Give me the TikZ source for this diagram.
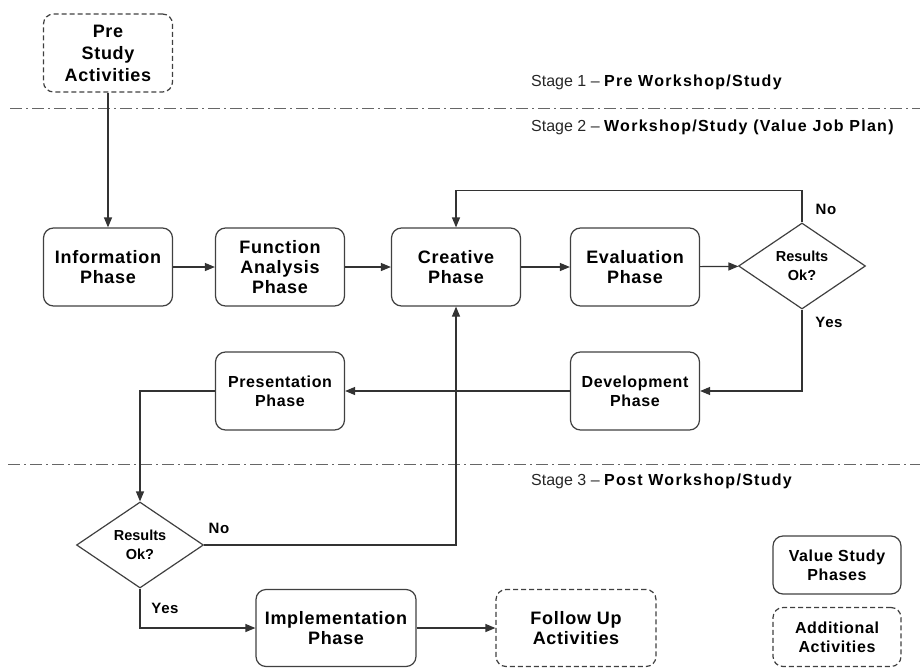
\documentclass[tikz,border=0pt]{standalone}
\usepackage{fontspec}
\setmainfont{Liberation Sans}
\newfontfamily\spaced[LetterSpace=4]{Liberation Sans}
\newfontfamily\wide[LetterSpace=8]{Liberation Sans}
\usetikzlibrary{shapes.geometric,arrows.meta}
\begin{document}
\begin{tikzpicture}[x=1pt,y=-1pt,
  phase/.style={draw=black!75, line width=1.2pt, rounded corners=10pt, minimum width=129pt, minimum height=78pt, align=center, font=\spaced\bfseries\fontsize{18}{20}\selectfont, inner sep=2pt},
  smalltext/.style={font=\spaced\bfseries\fontsize{16}{19}\selectfont},
  extra/.style={phase, dash pattern=on 5pt off 3pt},
  decision/.style={draw=black!75, line width=1.2pt, diamond, aspect=1.5, minimum width=127pt, minimum height=86pt, inner sep=0pt, align=center, font=\bfseries\fontsize{14.5}{19}\selectfont},
  conn/.style={draw=black!80, line width=1.2pt, -{Triangle[length=10pt,width=8pt]}},
  lab/.style={font=\spaced\bfseries\fontsize{15}{18}\selectfont},
  stage/.style={anchor=west, inner sep=0pt, text=black!85, font=\fontsize{16}{18}\selectfont},
  sep/.style={draw=black!60, line width=1pt, dash pattern=on 12pt off 4pt on 2pt off 4pt}]

\useasboundingbox (0,0) rectangle (920,669);

% separators
\coordinate (l1a) at (10,108);
\coordinate (l1b) at (920,108);
\coordinate (l2a) at (8,464);
\coordinate (l2b) at (920,464);
\draw[sep] (l1a) -- (l1b);
\draw[sep] (l2a) -- (l2b);

% stage labels
\node[stage] (s1) at (531,82) {Stage 1 – {\wide\bfseries\color{black} Pre Workshop/Study}};
\node[stage] (s2) at (531,127) {Stage 2 – {\wide\bfseries\color{black} Workshop/Study (Value Job Plan)}};
\node[stage] (s3) at (531,481) {Stage 3 – {\wide\bfseries\color{black} Post Workshop/Study}};

% nodes
\node[extra, font=\spaced\bfseries\fontsize{18}{22}\selectfont] (pre) at (108,53) {Pre\\Study\\Activities};
\node[phase] (info) at (108,267) {Information\\Phase};
\node[phase] (func) at (280,267) {Function\\Analysis\\Phase};
\node[phase] (crea) at (456,267) {Creative\\Phase};
\node[phase] (eval) at (635,267) {Evaluation\\Phase};
\node[decision] (d1) at (802,266) {Results\\Ok?};
\node[phase, smalltext] (dev) at (635,391) {Development\\Phase};
\node[phase, smalltext] (pres) at (280,391) {Presentation\\Phase};
\node[decision] (d2) at (140,545) {Results\\Ok?};
\node[phase, minimum width=160pt, minimum height=77pt] (impl) at (336,628) {Implementation\\Phase};
\node[extra, minimum width=160pt, minimum height=77pt] (follow) at (576,628) {Follow Up\\Activities};
\node[phase, smalltext, minimum width=128pt, minimum height=58pt] (leg1) at (837,565) {Value Study\\Phases};
\node[extra, smalltext, minimum width=128pt, minimum height=59pt] (leg2) at (837,637) {Additional\\Activities};

% connectors
\draw[conn] (pre) -- (info);
\draw[conn] (info) -- (func);
\draw[conn] (func) -- (crea);
\draw[conn] (crea) -- (eval);
\draw[conn] (eval) -- (d1);
\draw[conn] (d1.north) -- ++(0,-32) -| (crea.north);
\draw[conn] (d1.south) |- (dev.east);
\draw[conn] (dev) -- (pres);
\draw[conn] (pres.west) -| (d2.north);
\draw[conn] (d2.east) -| (crea.south);
\draw[conn] (d2.south) |- (impl.west);
\draw[conn] (impl) -- (follow);

% labels
\node[lab] (no1) at (826,209) {No};
\node[lab] (yes1) at (829,322) {Yes};
\node[lab] (no2) at (219,528) {No};
\node[lab] (yes2) at (165,608) {Yes};
\end{tikzpicture}
\end{document}
